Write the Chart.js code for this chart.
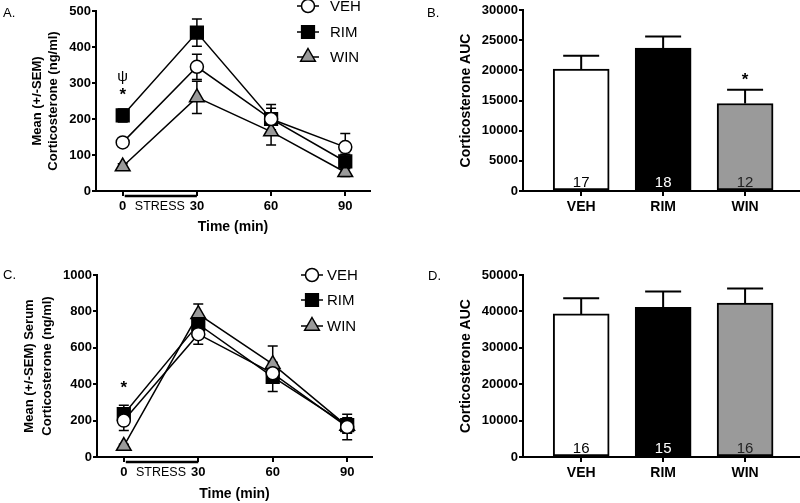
<!DOCTYPE html>
<html>
<head>
<meta charset="utf-8">
<title>Corticosterone</title>
<script src="https://cdn.jsdelivr.net/npm/chart.js@4.4.1/dist/chart.umd.min.js"></script>
<style>
  body { margin: 0; background: #fff; }
  canvas { position: absolute; }
</style>
</head>
<body>
<canvas id="panelA" width="400" height="250" style="left:0;top:0"></canvas>
<canvas id="panelB" width="400" height="250" style="left:400px;top:0"></canvas>
<canvas id="panelC" width="400" height="253" style="left:0;top:250px"></canvas>
<canvas id="panelD" width="400" height="253" style="left:400px;top:250px"></canvas>
<script>
'use strict';

// time course (min) and treatment groups
var timePoints = [0, 30, 60, 90];
var groups = ['VEH', 'RIM', 'WIN'];

// A. mean and SEM corticosterone (ng/ml)
var acuteVeh = [135, 345, 200, 122];
var acuteVehSem = [10, 35, 40, 38];
var acuteRim = [210, 440, 200, 82];
var acuteRimSem = [18, 38, 30, 20];
var acuteWin = [68, 260, 165, 52];
var acuteWinSem = [8, 45, 37, 12];

// C. mean and SEM serum corticosterone (ng/ml)
var repeatVeh = [200, 675, 460, 165];
var repeatVehSem = [55, 55, 50, 70];
var repeatRim = [235, 730, 440, 175];
var repeatRimSem = [50, 40, 80, 40];
var repeatWin = [60, 785, 510, 170];
var repeatWinSem = [10, 55, 100, 40];

// B. and D. area under the curve, SEM and n per group
var acuteAuc = [20200, 23700, 14500];
var acuteAucSem = [2200, 1900, 2300];
var acuteN = [17, 18, 12];
var repeatAuc = [39300, 41100, 42300];
var repeatAucSem = [4300, 4400, 4000];
var repeatN = [16, 15, 16];

var FONT = "'Liberation Sans', Arial, sans-serif";
Chart.defaults.font.family = FONT;
Chart.defaults.color = '#000';
Chart.defaults.animation = false;
Chart.defaults.responsive = false;
Chart.defaults.plugins.legend.display = false;
Chart.defaults.plugins.tooltip.enabled = false;

function drawMarker(ctx, style, r, x, y, fill) {
  ctx.beginPath();
  if (style === 'circle') {
    ctx.arc(x, y, r, 0, Math.PI * 2);
  } else if (style === 'rect') {
    var s = r * Math.SQRT1_2;
    ctx.rect(x - s, y - s, 2 * s, 2 * s);
  } else {
    ctx.moveTo(x, y - r);
    ctx.lineTo(x + r * 0.866, y + r * 0.5);
    ctx.lineTo(x - r * 0.866, y + r * 0.5);
    ctx.closePath();
  }
  ctx.fillStyle = fill;
  ctx.fill();
  ctx.stroke();
}

function valueAt(ds, i) {
  var v = ds.data[i];
  return typeof v === 'object' ? v.y : v;
}

// error bars, legend, labels and the stress bar
var extras = {
  id: 'extras',
  beforeDatasetsDraw: function (chart, args, o) {
    if (o.errorMode === 'both') drawErrors(chart, o);
  },
  afterDatasetsDraw: function (chart, args, o) {
    if (o.errorMode === 'up') drawErrors(chart, o);
  },
  afterDraw: function (chart, args, o) {
    var ctx = chart.ctx, xs = chart.scales.x, ys = chart.scales.y;
    ctx.save();
    ctx.fillStyle = '#000';
    ctx.textBaseline = 'middle';

    // panel letter
    ctx.font = '13px ' + FONT;
    ctx.textAlign = 'left';
    ctx.fillText(o.letter[0], o.letter[1], o.letter[2]);

    // legend
    if (o.legend) {
      ctx.lineWidth = 1.5;
      ctx.strokeStyle = '#000';
      chart.data.datasets.forEach(function (ds, i) {
        var ly = o.legend.rows[i], lx = o.legend.x;
        ctx.beginPath();
        ctx.moveTo(lx - 11, ly);
        ctx.lineTo(lx + 11, ly);
        ctx.stroke();
        drawMarker(ctx, ds.pointStyle, ds.pointRadius, lx, ly, ds.pointBackgroundColor);
        ctx.fillStyle = '#000';
        ctx.font = '15px ' + FONT;
        ctx.fillText(ds.label, o.legend.textX, ly + 1);
      });
    }

    // stress period bar under the time axis
    if (o.stress) {
      var x0 = xs.getPixelForValue(0), x1 = xs.getPixelForValue(30);
      var yb = chart.chartArea.bottom;
      ctx.strokeStyle = '#000';
      ctx.lineWidth = 2.5;
      ctx.beginPath();
      ctx.moveTo(x0 + 2, yb + 5);
      ctx.lineTo(x1, yb + 5);
      ctx.stroke();
      ctx.font = '12.5px ' + FONT;
      ctx.textAlign = 'center';
      ctx.fillText('STRESS', (x0 + x1) / 2, yb + 16);
    }

    // n per group inside the bars
    if (o.counts) {
      var base = ys.getPixelForValue(0);
      ctx.font = '15px ' + FONT;
      ctx.textAlign = 'center';
      chart.getDatasetMeta(0).data.forEach(function (bar, i) {
        ctx.fillStyle = o.countColors[i];
        ctx.fillText(String(o.counts[i]), bar.x, base - 8);
      });
    }

    // significance marks
    ctx.fillStyle = '#000';
    ctx.textAlign = 'center';
    (o.marks || []).forEach(function (m) {
      var top = -Infinity;
      chart.data.datasets.forEach(function (ds) {
        top = Math.max(top, valueAt(ds, m.index) + ds.sem[m.index]);
      });
      var px = o.stress ? xs.getPixelForValue(timePoints[m.index]) : xs.getPixelForValue(m.index + 1);
      ctx.font = m.font;
      ctx.fillText(m.text, px, ys.getPixelForValue(top) - m.lift);
    });
    ctx.restore();
  }
};

function drawErrors(chart, o) {
  var ctx = chart.ctx, ys = chart.scales.y;
  ctx.save();
  ctx.strokeStyle = '#000';
  ctx.lineWidth = o.errorWidth;
  chart.data.datasets.forEach(function (ds, di) {
    chart.getDatasetMeta(di).data.forEach(function (el, i) {
      var v = valueAt(ds, i), s = ds.sem[i];
      var yTop = ys.getPixelForValue(v + s);
      var yLow = o.errorMode === 'both' ? ys.getPixelForValue(v - s) : ys.getPixelForValue(v);
      ctx.beginPath();
      ctx.moveTo(el.x, yLow);
      ctx.lineTo(el.x, yTop);
      ctx.moveTo(el.x - o.capHalf, yTop);
      ctx.lineTo(el.x + o.capHalf, yTop);
      if (o.errorMode === 'both') {
        ctx.moveTo(el.x - o.capHalf, yLow);
        ctx.lineTo(el.x + o.capHalf, yLow);
      }
      ctx.stroke();
    });
  });
  ctx.restore();
}

function lineSet(label, values, sem, style, radius, fill) {
  return {
    label: label,
    data: timePoints.map(function (t, i) { return {x: t, y: values[i]}; }),
    sem: sem,
    borderColor: '#000',
    borderWidth: 1.5,
    pointStyle: style,
    pointRadius: radius,
    pointBackgroundColor: fill,
    pointBorderColor: '#000',
    pointBorderWidth: 1.5,
    tension: 0
  };
}

function axisGrid(len) {
  return {display: true, drawOnChartArea: false, color: '#000', lineWidth: 2, tickLength: len};
}

function timeCourse(id, sets, yMax, yStep, yTitle, dims, extra) {
  return new Chart(document.getElementById(id), {
    type: 'line',
    data: {datasets: sets},
    plugins: [extras],
    options: {
      layout: {padding: {top: dims.top, right: dims.right, left: 0, bottom: 0}},
      scales: {
        x: {
          type: 'linear', min: -10.8, max: 100,
          afterBuildTicks: function (s) { s.ticks = timePoints.map(function (v) { return {value: v}; }); },
          afterFit: function (s) { s.height = dims.xh; },
          border: {color: '#000', width: 2},
          grid: axisGrid(5),
          ticks: {color: '#000', font: {size: 13, weight: 'bold'}, padding: 3, maxRotation: 0, autoSkip: false},
          title: {display: true, text: 'Time (min)', color: '#000', font: {size: 14, weight: 'bold'}, padding: {top: 0, bottom: dims.xtPad}}
        },
        y: {
          min: 0, max: yMax,
          afterFit: function (s) { s.width = dims.yw; },
          border: {color: '#000', width: 2},
          grid: axisGrid(4),
          ticks: {stepSize: yStep, color: '#000', font: {size: 13, weight: 'bold'}, padding: 1,
            callback: function (v) { return String(v); }},
          title: {display: true, text: yTitle, color: '#000', font: {size: 13, weight: 'bold', lineHeight: dims.ytLine}, padding: {top: dims.ytPad, bottom: 0}}
        }
      },
      plugins: {extras: extra}
    }
  });
}

function aucBars(id, values, sem, yMax, yStep, dims, extra) {
  return new Chart(document.getElementById(id), {
    type: 'bar',
    data: {datasets: [{
      label: 'AUC',
      data: groups.map(function (g, i) { return {x: i + 1, y: values[i]}; }),
      sem: sem,
      backgroundColor: ['#ffffff', '#000000', '#9a9a9a'],
      borderColor: '#000',
      borderWidth: 2,
      borderSkipped: false,
      barThickness: 56
    }]},
    plugins: [extras],
    options: {
      layout: {padding: {top: dims.top, right: 0, left: 0, bottom: 0}},
      scales: {
        x: {
          type: 'linear', min: 0.29, max: 3.67, offset: false,
          afterBuildTicks: function (s) { s.ticks = [1, 2, 3].map(function (v) { return {value: v}; }); },
          afterFit: function (s) { s.height = dims.xh; },
          border: {color: '#000', width: 2},
          grid: Object.assign(axisGrid(5), {offset: false}),
          ticks: {color: '#000', font: {size: 14, weight: 'bold'}, padding: 3, maxRotation: 0, autoSkip: false,
            callback: function (v) { return groups[v - 1]; }}
        },
        y: {
          min: 0, max: yMax,
          afterFit: function (s) { s.width = 123; },
          border: {color: '#000', width: 2},
          grid: axisGrid(4),
          ticks: {stepSize: yStep, color: '#000', font: {size: 13, weight: 'bold'}, padding: 1,
            callback: function (v) { return String(v); }},
          title: {display: true, text: 'Corticosterone AUC', color: '#000', font: {size: 14, weight: 'bold'}, padding: {top: 58, bottom: 0}}
        }
      },
      plugins: {extras: extra}
    }
  });
}

timeCourse('panelA', [
  lineSet('VEH', acuteVeh, acuteVehSem, 'circle', 6.5, '#ffffff'),
  lineSet('RIM', acuteRim, acuteRimSem, 'rect', 9, '#000000'),
  lineSet('WIN', acuteWin, acuteWinSem, 'triangle', 8.5, '#9a9a9a')
], 500, 100, ['Mean (+/-SEM)', 'Corticosterone (ng/ml)'],
  {top: 11, right: 30, xh: 59, yw: 96, xtPad: 14, ytPad: 29, ytLine: 1.25},
  {letter: ['A.', 3, 13], errorMode: 'both', capHalf: 5, errorWidth: 1.5, stress: true,
   legend: {x: 308, textX: 330, rows: [6, 32, 57]},
   marks: [{index: 0, text: '*', lift: 14, font: 'bold 17px ' + FONT},
           {index: 0, text: '\u03c8', lift: 32, font: '15px ' + FONT}]});

aucBars('panelB', acuteAuc, acuteAucSem, 30000, 5000, {top: 10, xh: 59},
  {letter: ['B.', 27, 13], errorMode: 'up', capHalf: 18, errorWidth: 2,
   counts: acuteN, countColors: ['#000', '#fff', '#222'],
   marks: [{index: 2, text: '*', lift: 9, font: 'bold 17px ' + FONT}]});

timeCourse('panelC', [
  lineSet('VEH', repeatVeh, repeatVehSem, 'circle', 6.5, '#ffffff'),
  lineSet('RIM', repeatRim, repeatRimSem, 'rect', 9, '#000000'),
  lineSet('WIN', repeatWin, repeatWinSem, 'triangle', 8.5, '#9a9a9a')
], 1000, 200, ['Mean (+/-SEM) Serum', 'Corticosterone (ng/ml)'],
  {top: 25, right: 28, xh: 46, yw: 97, xtPad: 0, ytPad: 21, ytLine: 1.35},
  {letter: ['C.', 3, 25], errorMode: 'both', capHalf: 5, errorWidth: 1.5, stress: true,
   legend: {x: 312, textX: 327, rows: [25, 50, 76]},
   marks: [{index: 0, text: '*', lift: 17, font: 'bold 17px ' + FONT}]});

aucBars('panelD', repeatAuc, repeatAucSem, 50000, 10000, {top: 25, xh: 46},
  {letter: ['D.', 28, 26], errorMode: 'up', capHalf: 18, errorWidth: 2,
   counts: repeatN, countColors: ['#000', '#fff', '#222'], marks: []});
</script>
</body>
</html>
